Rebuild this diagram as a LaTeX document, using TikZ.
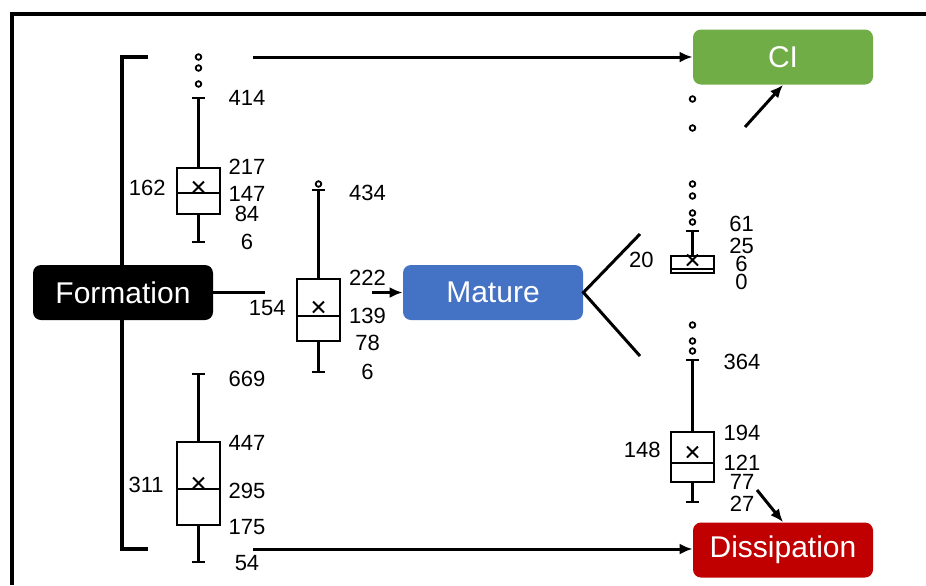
\documentclass[tikz,border=0pt]{standalone}
\usepackage{fontspec}
\setmainfont{Liberation Sans}
\usepackage{tikz}
\usetikzlibrary{arrows.meta,positioning,shapes.misc}
\definecolor{verde}{HTML}{70AD47}
\definecolor{azul}{HTML}{4472C4}
\definecolor{vermelho}{HTML}{C00000}

\begin{document}
\begin{tikzpicture}[
  x=0.5pt,y=-0.5pt,
  etapa/.style={rounded corners=4pt,minimum width=90pt,minimum height=27.5pt,
                inner sep=0pt,text=white,font=\fontsize{15}{17}\selectfont},
  rotulo/.style={inner sep=0pt,font=\fontsize{11}{12}\selectfont},
  caixa/.style={line width=1.1pt},
  fora/.style={line width=0.9pt},
  media/.style={cross out,draw,line width=1pt,minimum size=4.5pt,inner sep=0pt},
  arr/.style={-{Latex[length=6.5pt,width=5.5pt]},line width=1.5pt},
  linha/.style={line width=1.5pt}
]
  \useasboundingbox (0,0) rectangle (926,585);
  % moldura
  \draw[line width=2.3pt] (12,585) -- (12,14) -- (926,14);
  % chave da formacao
  \draw[line width=1.7pt] (148,57) -- (122,57) -- (122,549) -- (148,549);

  \node[etapa,fill=black] (form) at (123,292.5) {Formation};
  \node[etapa,fill=azul] (mat) at (493,292.5) {Mature};
  \node[etapa,fill=verde] (ci) at (783,57) {CI};
  \node[etapa,fill=vermelho] (diss) at (783,550) {Dissipation};

  % boxplots
  \foreach \xx/\wt/\qt/\md/\qb/\wb/\mn [count=\k] in
    {198.5/98/168/193/214/242/187, 318.5/190/279/316/341/372/307,
     198.5/374/442/489/525/562/483, 692.5/231/256/269/273/273/260,
     692.5/360/432/463/482/502/452}{
    \draw[caixa] (\xx,\wt) -- (\xx,\qt) (\xx,\qb) -- (\xx,\wb)
      (\xx-6.5,\wt) -- (\xx+6.5,\wt) (\xx-6.5,\wb) -- (\xx+6.5,\wb);
    \draw[caixa] (\xx-21.5,\qt) rectangle (\xx+21.5,\qb);
    \draw[caixa] (\xx-21.5,\md) -- (\xx+21.5,\md);
    \node[media] (mn\k) at (\xx,\mn) {};
  }
  % outliers
  \foreach \xx/\yy in {198.5/57,198.5/68,198.5/84,318.5/184,
                       692.5/99,692.5/128,692.5/184,692.5/196,692.5/213,692.5/222,
                       692.5/325,692.5/341,692.5/351}
    \draw[fora] (\xx,\yy) circle[radius=1.4pt];

  % valores
  \foreach \v/\yy [count=\i] in {414/98,217/167,147/194,84/214,6/242}
    \node[rotulo] (a\i) at (247,\yy) {\v};
  \node[rotulo,anchor=east] (am) at (166,188) {162};
  \foreach \v/\yy [count=\i] in {434/193,222/278,139/316,78/343,6/372}
    \node[rotulo] (b\i) at (367.5,\yy) {\v};
  \node[rotulo,anchor=east] (bm) at (286,308) {154};
  \foreach \v/\yy [count=\i] in {669/379,447/443,295/491,175/527,54/563}
    \node[rotulo] (c\i) at (247,\yy) {\v};
  \node[rotulo,anchor=east] (cm) at (164,485) {311};
  \foreach \v/\yy [count=\i] in {61/224,25/246,6/264,0/282}
    \node[rotulo] (d\i) at (741.5,\yy) {\v};
  \node[rotulo,anchor=east] (dm) at (654,260) {20};
  \foreach \v/\yy [count=\i] in {364/362,194/433,121/463,77/482,27/504}
    \node[rotulo] (e\i) at (742,\yy) {\v};
  \node[rotulo,anchor=east] (em) at (661,450) {148};

  % ligacoes
  \coordinate (topo) at (253,57);
  \coordinate (base) at (253,549);
  \coordinate (meio) at (265,292.5);
  \coordinate (entra) at (372,292.5);
  \coordinate (sobe) at (640,234);
  \coordinate (desce) at (640,356);
  \coordinate (paraci) at (745,127);
  \coordinate (paradiss) at (757,490);
  \draw[arr] (topo) -- (ci.west);
  \draw[arr] (base) -- (base -| diss.west);
  \draw[linha] (form.east) -- (meio);
  \draw[arr] (entra) -- (mat.west);
  \draw[linha] (sobe) -- (mat.east) -- (desce);
  \draw[arr] (paraci) -- (ci.south);
  \draw[arr] (paradiss) -- (diss.north);
\end{tikzpicture}
\end{document}
